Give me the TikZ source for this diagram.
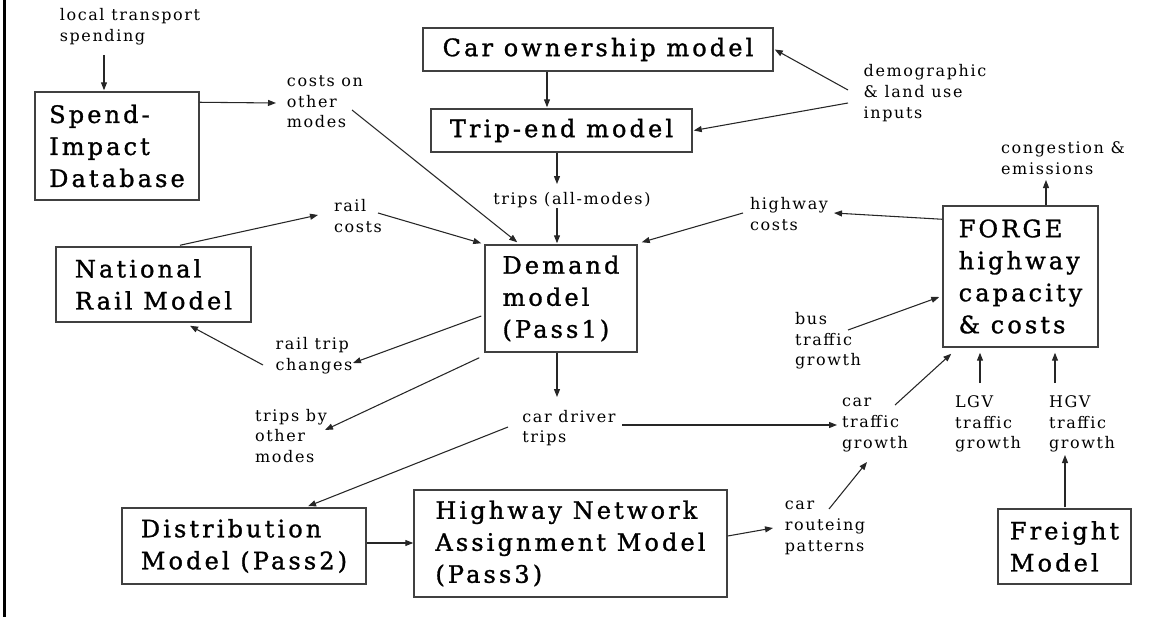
\documentclass[tikz,border=0pt]{standalone}
\usepackage{fontspec}
\usepackage{tikz}
\usetikzlibrary{arrows.meta,calc}
\newfontfamily\boxfont[LetterSpace=13,FakeBold=1.2]{DejaVu Serif}
\newfontfamily\notefont[LetterSpace=10]{DejaVu Serif}

\begin{document}
\begin{tikzpicture}[x=0.75pt,y=0.75pt,yscale=-1,xscale=1,
  model/.style={draw=black!75,line width=1.1pt,fill=white,align=left,inner sep=0.75pt,font={\boxfont\fontsize{18}{24}\selectfont}},
  note/.style={inner sep=0.75pt,align=left,font={\notefont\fontsize{12}{15.5}\selectfont}},
  flow/.style={draw=black!85,line width=0.8pt,-{Triangle[length=6pt,width=4.5pt]}}]
\useasboundingbox (0,0) rectangle (1161,617);

%Straight Lines
\draw [line width=2.25pt] (4,0) -- (4,617) ;

%Shape: Rectangle
\draw (117,146) node (spend) [model,minimum width=123pt,minimum height=81pt] {Spend-\\Impact\\Database};
%Shape: Rectangle
\draw (598,49.5) node (car) [model,minimum width=262.5pt,minimum height=32.25pt] {Car ownership model};
%Shape: Rectangle
\draw (561.5,130.5) node (tripend) [model,minimum width=195.75pt,minimum height=32.25pt] {Trip-end model};
%Shape: Rectangle
\draw (561,298.5) node (demand) [model,minimum width=114pt,minimum height=80.25pt] {Demand\\model\\(Pass1)};
%Shape: Rectangle
\draw (153.5,284.5) node (rail) [model,minimum width=146.25pt,minimum height=56.25pt] {National\\Rail Model};
%Shape: Rectangle
\draw (1020.5,276.5) node (forge) [model,minimum width=116.25pt,minimum height=105.75pt] {FORGE\\highway\\capacity\\\& costs};
%Shape: Rectangle
\draw (244,546) node (dist) [model,minimum width=183pt,minimum height=57pt] {Distribution\\Model (Pass2)};
%Shape: Rectangle
\draw (570.5,543.5) node (hwy) [model,minimum width=234.75pt,minimum height=80.25pt] {Highway Network\\Assignment Model\\(Pass3)};
%Shape: Rectangle
\draw (1064.5,546.5) node (freight) [model,minimum width=99.75pt,minimum height=56.25pt] {Freight\\Model};

% Text Node
\draw (130,27) node (spending) [note] {local transport\\spending};
% Text Node
\draw (325,102) node (costs) [note] {costs on\\other\\modes};
% Text Node
\draw (925,93) node (demo) [note] {demographic\\\& land use\\inputs};
% Text Node
\draw (572,200) node (allmodes) [note] {trips (all-modes)};
% Text Node
\draw (358,216) node (railcosts) [note] {rail\\costs};
% Text Node
\draw (789,214) node (hwycosts) [note] {highway\\costs};
% Text Node
\draw (1063,158) node (congestion) [note] {congestion \&\\emissions};
% Text Node
\draw (314,356) node (railtrip) [note] {rail trip\\changes};
% Text Node
\draw (291,436) node (tripsby) [note] {trips by\\other\\modes};
% Text Node
\draw (569,428) node (cardriver) [note] {car driver\\trips};
% Text Node
\draw (828,341) node (bus) [note] {bus\\traffic\\growth};
% Text Node
\draw (875,425) node (cartraffic) [note] {car\\traffic\\growth};
% Text Node
\draw (988,424) node (lgv) [note] {LGV\\traffic\\growth};
% Text Node
\draw (1082,424) node (hgv) [note] {HGV\\traffic\\growth};
% Text Node
\draw (825,528) node (routeing) [note] {car\\routeing\\patterns};

%Straight Lines
\draw [flow] ($(spending.center)+(-26,28)$) -- ($(spend.north)+(-13,-1)$);
\draw [flow] ($(spend.north east)+(0,11)$) -- ($(costs.center)+(-49,1)$);
\draw [flow] ($(costs.center)+(27,8)$) -- ($(demand.north west)+(33,-2)$);
\draw [flow] ($(car.south)+(-51,0)$) -- ($(tripend.north)+(-14.5,-1)$);
\draw [flow] ($(demo.center)+(-77,-3)$) -- ($(car.east)+(1,0)$);
\draw [flow] ($(demo.center)+(-77,10)$) -- ($(tripend.east)+(1,0)$);
\draw [flow] ($(tripend.south)+(-4.5,0)$) -- ($(allmodes.center)+(-15,-16)$);
\draw [flow] ($(allmodes.center)+(-15,8)$) -- ($(demand.north)+(-4,-1)$);
\draw [flow] ($(railcosts.center)+(20,-3)$) -- ($(demand.north west)+(-3,-1)$);
\draw [flow] ($(rail.north)+(26.5,-1)$) -- ($(railcosts.center)+(-40,-1)$);
\draw [flow] ($(hwycosts.center)+(-46,-1)$) -- ($(demand.north east)+(4,-2)$);
\draw [flow] ($(forge.north west)+(0,14)$) -- ($(hwycosts.center)+(45,-1)$);
\draw [flow] ($(forge.north)+(25.5,0)$) -- ($(congestion.center)+(-17,22)$);
%Straight Lines
\draw [flow] ($(demand.west)+(-3,17.5)$) -- ($(railtrip.center)+(39,7)$);
\draw [flow] ($(railtrip.center)+(-51,9)$) -- ($(rail.south)+(36.5,3)$);
\draw [flow] ($(demand.south west)+(-5,5)$) -- ($(tripsby.center)+(34,-6)$);
\draw [flow] ($(demand.south)+(-4,0)$) -- ($(cardriver.center)+(-12,-31)$);
\draw [flow] ($(cardriver.center)+(53,-3)$) -- ($(cartraffic.center)+(-38,0)$);
\draw [flow] ($(cardriver.center)+(-61,-1)$) -- ($(dist.north)+(64,-1)$);
\draw [flow] ($(dist.east)+(0,-3)$) -- ($(hwy.west)+(0,-0.5)$);
\draw [flow] ($(hwy.east)+(0,-7.5)$) -- ($(routeing.center)+(-52,0)$);
\draw [flow] ($(routeing.center)+(4,-19)$) -- ($(cartraffic.center)+(-8,37)$);
%Straight Lines
\draw [flow] ($(bus.center)+(20,-11)$) -- ($(forge.west)+(-3,20.5)$);
\draw [flow] ($(cartraffic.center)+(20,-20)$) -- ($(forge.south west)+(9,6)$);
\draw [flow] ($(lgv.center)+(-8,-41)$) -- ($(forge.south)+(-40.5,5)$);
\draw [flow] ($(hgv.center)+(-27,-41)$) -- ($(forge.south)+(34.5,5)$);
\draw [flow] ($(freight.north)+(0.5,-1)$) -- ($(hgv.center)+(-17,31)$);

\end{tikzpicture}
\end{document}
